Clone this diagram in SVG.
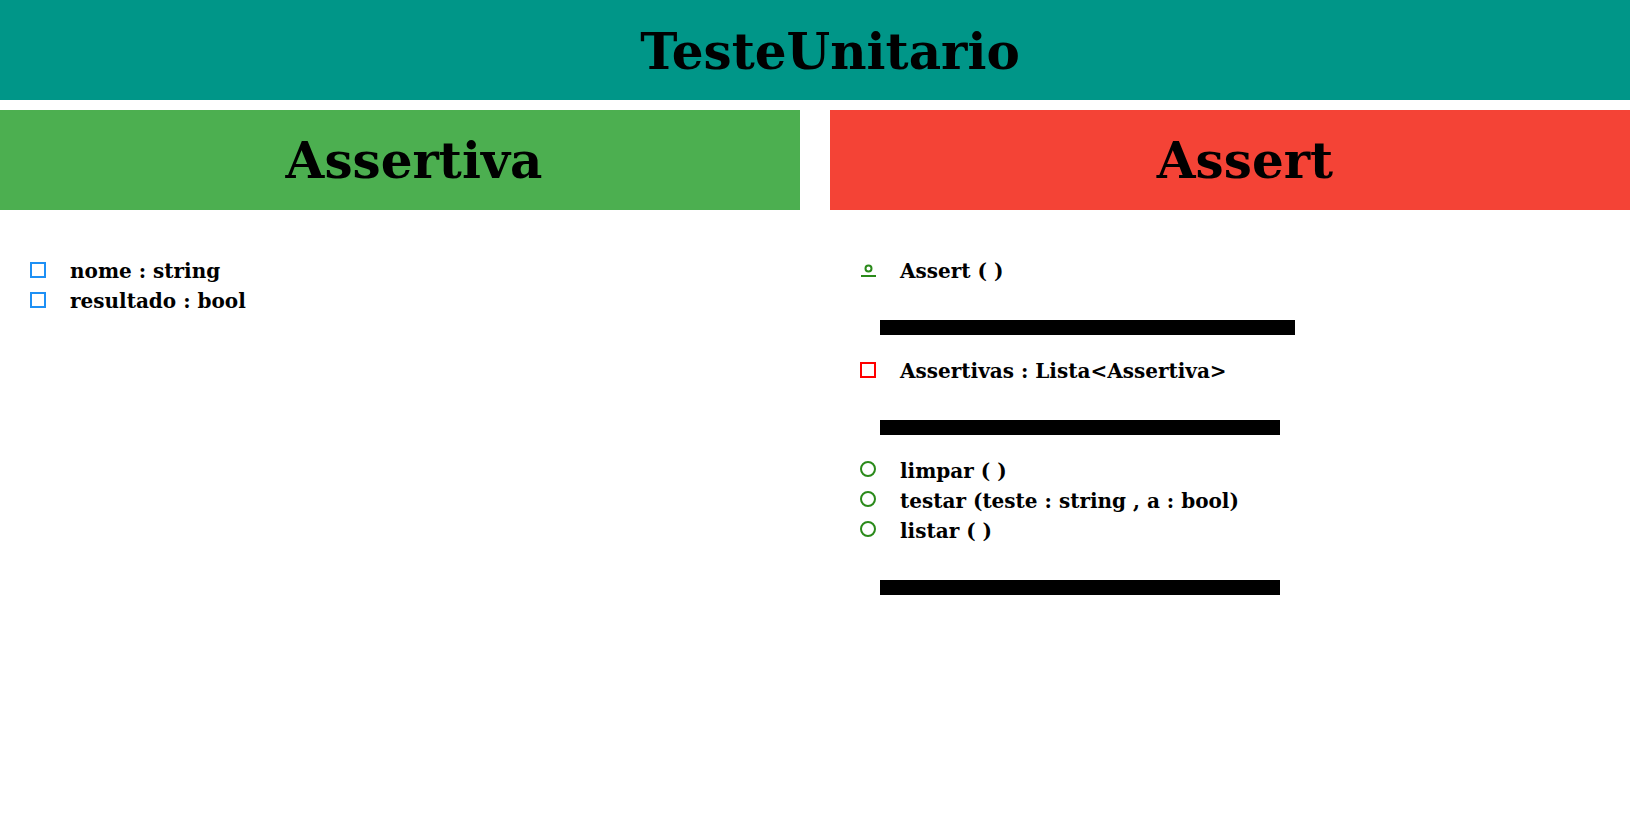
<svg xmlns="http://www.w3.org/2000/svg" width="1630" height="840" viewBox="0 0 1630 840">
<style>
.h{font-family:"DejaVu Serif",serif;font-weight:bold;font-size:50px;fill:#000;text-anchor:middle}
.t{font-family:"DejaVu Serif",serif;font-weight:bold;font-size:20px;fill:#000}
.sq{fill:none;stroke-width:2}
.bar{fill:#000}
.op{fill:none;stroke:#2a8a1a;stroke-width:2}
</style>
<rect width="1630" height="840" fill="#fff"/>
<g id="title">
<rect x="0" y="0" width="1630" height="100" fill="#009688"/>
<text class="h" x="830" y="69">TesteUnitario</text>
</g>
<g id="assertiva">
<rect x="0" y="110" width="800" height="100" fill="#4CAF50"/>
<text class="h" x="414" y="178">Assertiva</text>
<rect class="sq" x="31" y="263" width="14" height="14" stroke="#1E90F5"/>
<text class="t" x="70" y="278">nome : string</text>
<rect class="sq" x="31" y="293" width="14" height="14" stroke="#1E90F5"/>
<text class="t" x="70" y="308">resultado : bool</text>
</g>
<g id="assert">
<rect x="830" y="110" width="800" height="100" fill="#F44336"/>
<text class="h" x="1245" y="178">Assert</text>
<circle class="op" cx="868.5" cy="268.5" r="3"/>
<line class="op" x1="861" y1="276" x2="876" y2="276"/>
<text class="t" x="900" y="278">Assert ( )</text>
<rect class="bar" x="880" y="320" width="415" height="15"/>
<rect class="sq" x="861" y="363" width="14" height="14" stroke="#FF0000"/>
<text class="t" x="900" y="378">Assertivas : Lista&lt;Assertiva&gt;</text>
<rect class="bar" x="880" y="420" width="400" height="15"/>
<circle class="op" cx="868" cy="469" r="7"/>
<text class="t" x="900" y="478">limpar ( )</text>
<circle class="op" cx="868" cy="499" r="7"/>
<text class="t" x="900" y="508">testar (teste : string , a : bool)</text>
<circle class="op" cx="868" cy="529" r="7"/>
<text class="t" x="900" y="538">listar ( )</text>
<rect class="bar" x="880" y="580" width="400" height="15"/>
</g>
<g id="connectors"></g>
</svg>
